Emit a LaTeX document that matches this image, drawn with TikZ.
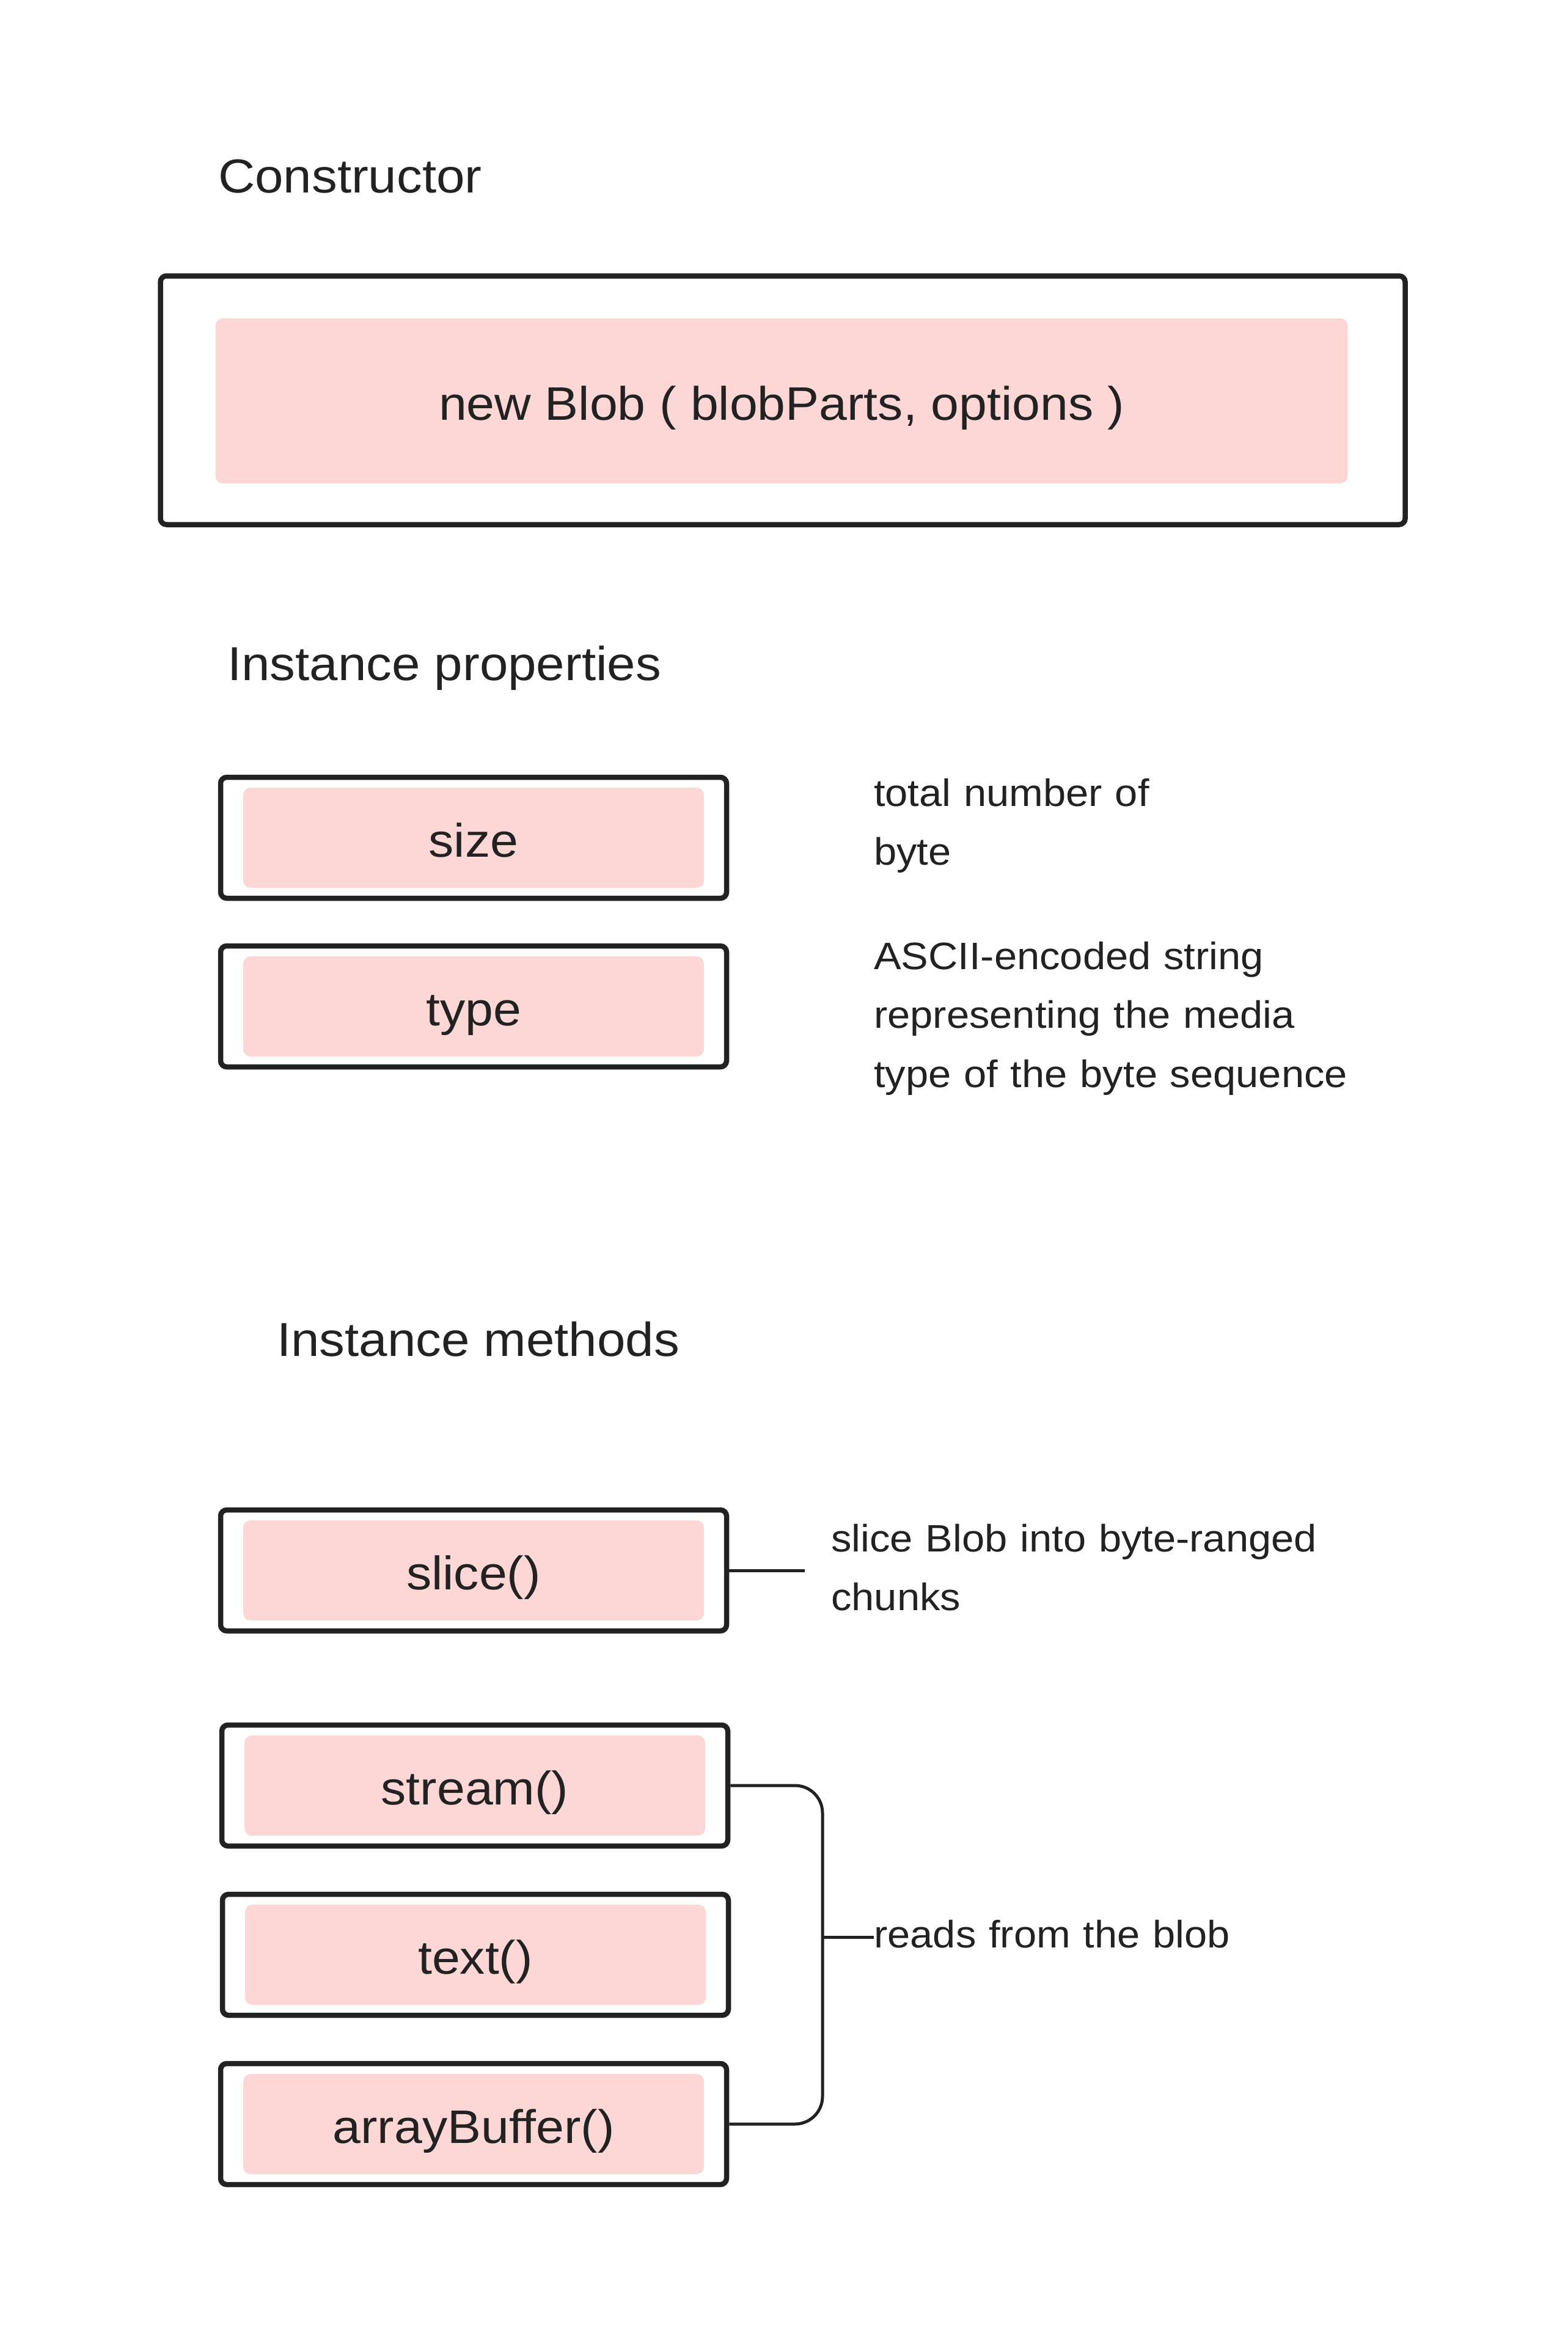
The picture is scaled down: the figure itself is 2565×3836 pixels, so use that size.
\documentclass[tikz,border=0pt]{standalone}
\usepackage{fontspec}
\setmainfont[FakeStretch=1.07]{Liberation Sans}
\usepackage{tikz}
\definecolor{blobpink}{HTML}{FDD7D6}
\definecolor{ink}{HTML}{222222}
\tikzstyle{outerbox}=[rectangle, draw=ink, line width=8.5pt, rounded corners=10pt, minimum width=828pt, minimum height=198pt]
\tikzstyle{pinkbox}=[rectangle, fill=blobpink, rounded corners=12pt, minimum width=754pt, minimum height=164pt, text=ink, text height=62pt, text depth=0pt, font=\fontsize{77}{90}\selectfont]
\tikzstyle{heading}=[anchor=base west, inner sep=0pt, text=ink, font=\fontsize{78}{90}\selectfont]
\tikzstyle{note}=[anchor=base west, inner sep=0pt, text=ink, text width=900pt, align=left, font=\fontsize{62.5}{96.5}\selectfont]
\tikzstyle{conn}=[draw=ink, line width=5pt]
\newcommand{\blobbox}[3]{
	\node[outerbox] (#1) at (#2) {};
	\node[pinkbox] (#1-in) at (#2) {#3};}

\begin{document}
\begin{tikzpicture}[x=1pt, y=-1pt]
	\useasboundingbox (0,0) rectangle (2565,3836);

	\node[heading] (ctorhead) at (357,315) {Constructor};
	\node[outerbox, minimum width=2037pt, minimum height=407pt] (ctor) at (1281,655) {};
	\node[pinkbox, minimum width=1853pt, minimum height=270pt] (ctor-in) at (1279,656) {new Blob ( blobParts, options )};

	\node[heading] (prophead) at (372,1113) {Instance properties};
	\blobbox{size}{775,1371}{size}
	\blobbox{type}{775,1647}{type}
	\node[note] (sizenote) at (1430,1319) {total number of\\byte};
	\node[note] (typenote) at (1430,1586) {ASCII-encoded string\\representing the media\\type of the byte sequence};

	\node[heading] (methhead) at (453,2219) {Instance methods};
	\blobbox{slice}{775,2570}{slice()}
	\blobbox{stream}{777,2922}{stream()}
	\blobbox{textfn}{778,3199}{text()}
	\blobbox{abuf}{775,3476}{arrayBuffer()}

	\coordinate (slicetip) at (1317,2570);
	\draw[conn] (slice.east) -- (slicetip);
	\node[note] (slicenote) at (1360,2539) {slice Blob into byte-ranged\\chunks};

	\node[note] (readsnote) at (1430,3187) {reads from the blob};
	\coordinate (brace) at (1346,3170);
	\draw[conn, rounded corners=45pt] (stream.east) -| (brace) |- (abuf.east);
	\draw[conn] (brace) -- (brace -| readsnote.west);
\end{tikzpicture}
\end{document}
